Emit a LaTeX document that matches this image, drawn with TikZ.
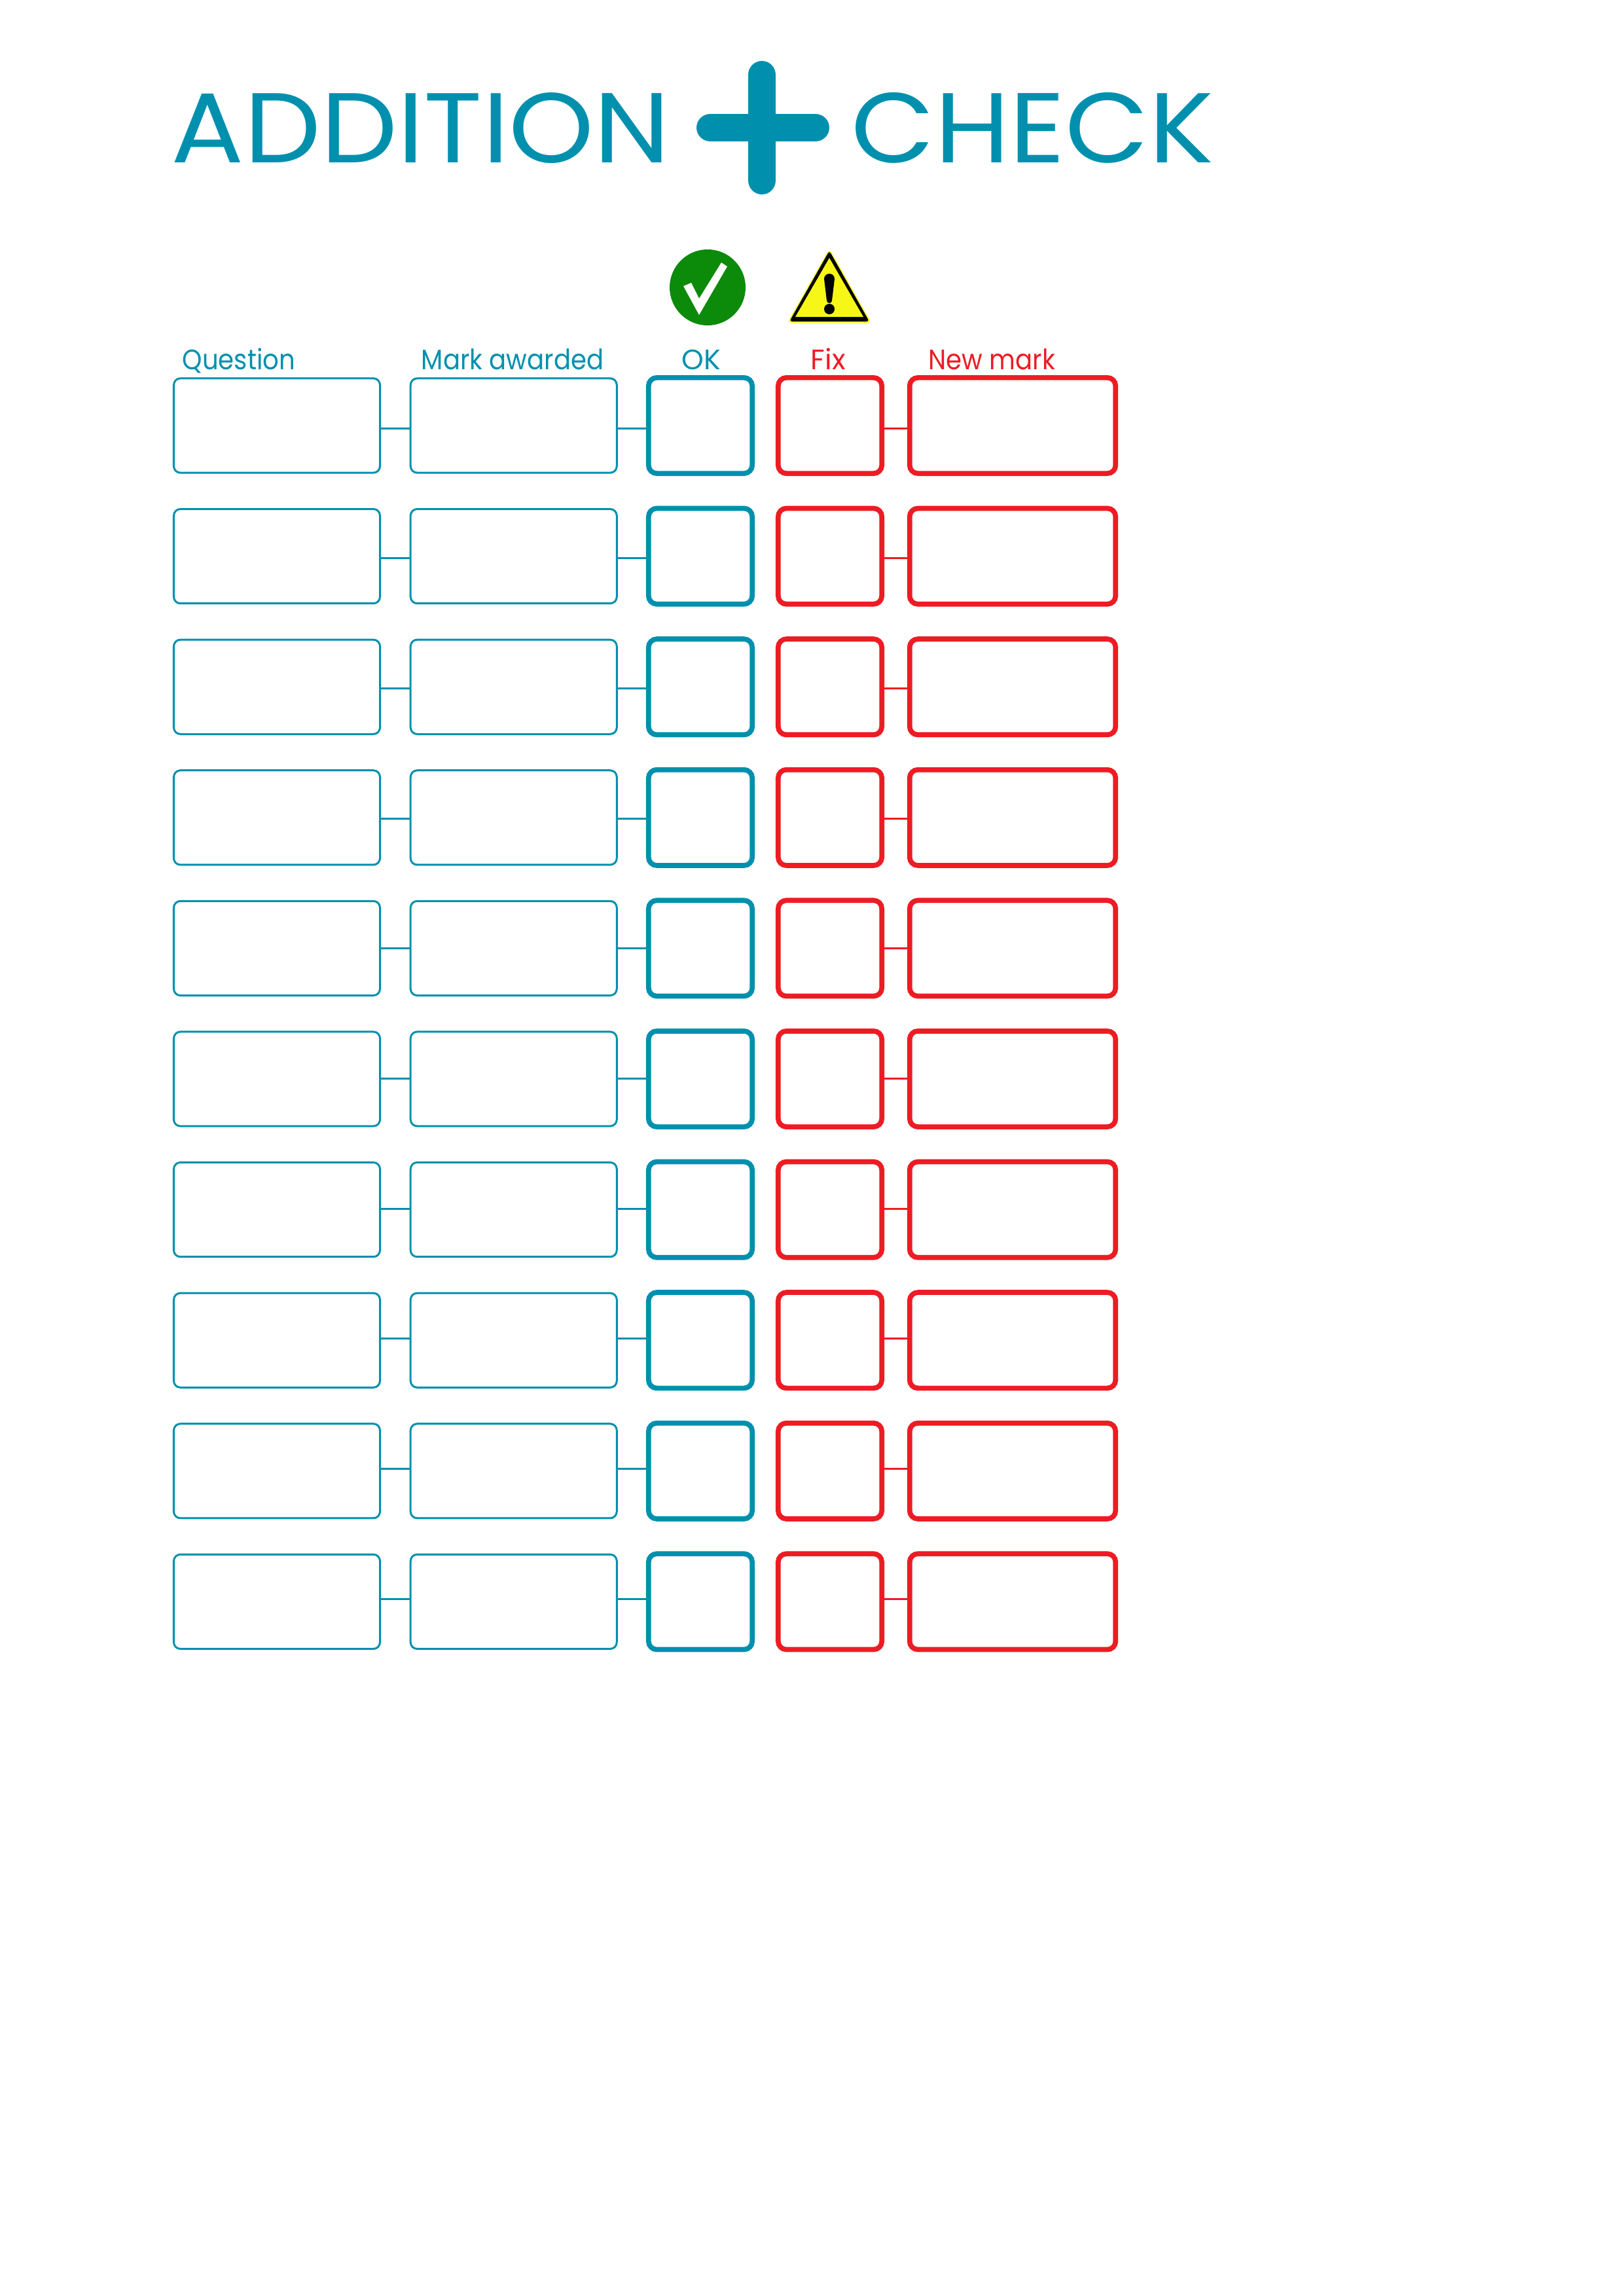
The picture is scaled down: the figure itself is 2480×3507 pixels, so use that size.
\documentclass[tikz,border=0pt]{standalone}
\usepackage{fontspec}
\setmainfont{Poppins}
\newfontfamily\titlefont{Poppins}[FakeStretch=1.09]
\newfontfamily\headfont{Poppins}[FakeStretch=0.9]
\definecolor{tealline}{HTML}{0090AE}
\definecolor{redline}{HTML}{ED1C24}
\definecolor{okgreen}{HTML}{0C8A0A}
\definecolor{warnyellow}{HTML}{F7F717}
\tikzset{
	thinbox/.style={draw=tealline, line width=0.72bp, rounded corners=2.4bp, minimum width=75.6bp, minimum height=34.6bp, inner sep=0pt, outer sep=0pt},
	thickbox/.style={draw=#1, line width=1.85bp, rounded corners=3bp, minimum height=35.1bp, inner sep=0pt, outer sep=0pt},
	link/.style={draw=#1, line width=0.72bp},
	titletext/.style={text=tealline, font=\titlefont\fontsize{36.4bp}{40bp}\selectfont, anchor=base west, inner sep=0pt},
	headtext/.style={text=#1, font=\fontsize{10.3bp}{12bp}\selectfont, anchor=base west, inner sep=0pt},
	widehead/.style={text=#1, font=\headfont\fontsize{10.3bp}{12bp}\selectfont, anchor=base west, inner sep=0pt},
}
\begin{document}
\begin{tikzpicture}[x=0.24bp, y=-0.24bp]
	\useasboundingbox (0,0) rectangle (2480,3507);
	
	\node[titletext] (addition) at (261,248) {ADDITION};
	\node[titletext] (check) at (1300,248) {CHECK};
	\draw[tealline, line width=10.3bp, line cap=round] (1164,114.5) -- (1164,275.5);
	\draw[tealline, line width=10.3bp, line cap=round] (1085.5,195) -- (1245.5,195);
	
	\fill[okgreen] (1081,439) circle (58);
	\fill[white] (1044,437) -- (1056,432) -- (1068,456) -- (1102,401) -- (1111,407) -- (1068,481) -- cycle;
	
	\fill[warnyellow, rounded corners=1.5bp] (1267,380) -- (1331,493) -- (1203,493) -- cycle;
	\fill[black, rounded corners=1bp] (1267,383) -- (1328,491) -- (1206,491) -- cycle;
	\fill[warnyellow] (1267,394) -- (1319,484) -- (1215,484) -- cycle;
	\fill[black] (1259,426) arc (180:360:8) -- (1271,459) arc (0:180:4) -- cycle;
	\fill[black] (1267,472) circle (8);
	
	\node[widehead=tealline] (qhead) at (278,564) {Question};
	\node[widehead=tealline] (mhead) at (643,564) {Mark awarded};
	\node[headtext=tealline] (okhead) at (1041,564) {OK};
	\node[headtext=redline] (fixhead) at (1238,564) {Fix};
	\node[widehead=redline] (newhead) at (1418,564) {New mark};
	
	\foreach \r in {1,...,10}{
		\pgfmathsetmacro{\y}{650+199.6*(\r-1)}
		\node[thinbox] (q\r) at (423,\y) {};
		\node[thinbox] (m\r) at (784.75,\y) {};
		\node[thickbox=tealline, minimum width=38bp] (ok\r) at (1070,\y) {};
		\node[thickbox=redline, minimum width=38bp] (fix\r) at (1268,\y) {};
		\node[thickbox=redline, minimum width=75.5bp] (new\r) at (1547,\y) {};
		
		\draw[link=tealline] ([yshift={(\r-5.5)*0.228bp}]q\r.east) -- ([yshift={(\r-5.5)*0.228bp}]m\r.west);
		\draw[link=tealline] ([yshift={(\r-5.5)*0.228bp}]m\r.east) -- ([yshift={(\r-5.5)*0.228bp}]ok\r.west);
		\draw[link=redline] ([yshift={(\r-5.5)*0.228bp}]fix\r.east) -- ([yshift={(\r-5.5)*0.228bp}]new\r.west);
	}
\end{tikzpicture}
\end{document}
